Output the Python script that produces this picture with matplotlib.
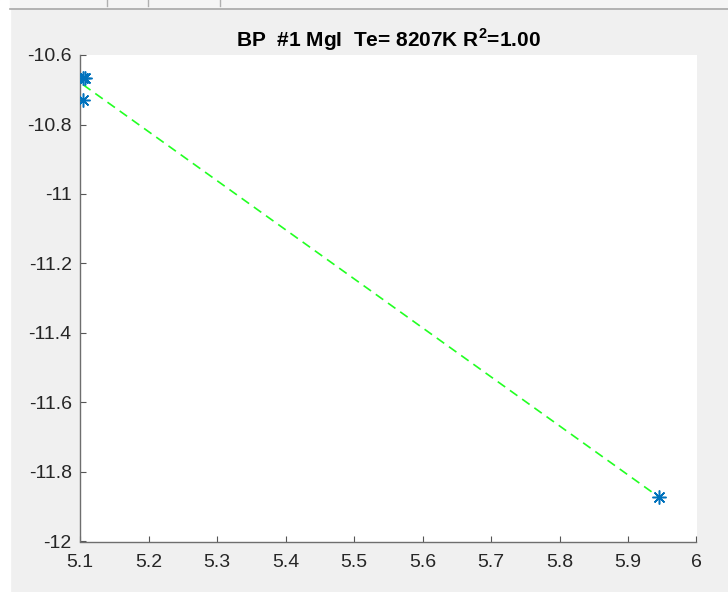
import numpy as np
import matplotlib
matplotlib.use("Agg")
import matplotlib.pyplot as plt
from matplotlib.patches import Rectangle
from matplotlib.lines import Line2D

# valores (Boltzmann plot, MgI)
x_energy = [5.1045, 5.1068, 5.1045, 5.9457]
y_ln = [-10.665, -10.665, -10.730, -11.873]

x_ticks = [5.1, 5.2, 5.3, 5.4, 5.5, 5.6, 5.7, 5.8, 5.9, 6.0]
x_tick_labels = ["5.1", "5.2", "5.3", "5.4", "5.5", "5.6", "5.7", "5.8", "5.9", "6"]
y_ticks = [-12.0, -11.8, -11.6, -11.4, -11.2, -11.0, -10.8, -10.6]
y_tick_labels = ["-12", "-11.8", "-11.6", "-11.4", "-11.2", "-11", "-10.8", "-10.6"]

title_text = r"BP  #1 MgI  Te= 8207K R$^{\mathbf{2}}$=1.00"

plt.rcParams['font.family'] = ['Liberation Sans', 'DejaVu Sans']
plt.rcParams['mathtext.fontset'] = 'custom'
plt.rcParams['mathtext.rm'] = 'Liberation Sans'
plt.rcParams['mathtext.bf'] = 'Liberation Sans:bold'

W, H = 728, 592
fig = plt.figure(figsize=(W / 100, H / 100), dpi=100, facecolor='#f0f0f0')

# franjas de la ventana (borde blanco y barra superior)
fig.add_artist(Rectangle((0, 0), 10 / W, 1, transform=fig.transFigure, color='white', zorder=0))
fig.add_artist(Rectangle((10 / W, 1 - 8 / H), 1, 8 / H, transform=fig.transFigure, color='#f5f5f5', zorder=0))
fig.add_artist(Line2D([10 / W, 1], [1 - 8.5 / H, 1 - 8.5 / H], transform=fig.transFigure, color='#a8a8a8', lw=1.2))
for xp in [107, 148, 220]:
    fig.add_artist(Line2D([xp / W, xp / W], [1 - 6 / H, 1], transform=fig.transFigure, color='#b0b0b0', lw=1))

ax = fig.add_axes([80 / W, 1 - 541.5 / H, 616.5 / W, 486.5 / H])
ax.set_facecolor('white')

# ajuste lineal
coef = np.polyfit(x_energy, y_ln, 1)
x_fit = np.array([min(x_energy), max(x_energy)])
ax.plot(x_fit, np.polyval(coef, x_fit), '--', color='#22ff22', lw=1.2, dashes=(5.5, 3.5), zorder=2)
ax.plot(x_energy, y_ln, linestyle='none', marker=(8, 2, 0), color='#0072bd',
        markersize=10, markeredgewidth=1.1, zorder=3)

ax.set_xlim(5.1, 6.0)
ax.set_ylim(-12.0, -10.6)
ax.set_xticks(x_ticks)
ax.set_xticklabels(x_tick_labels)
ax.set_yticks(y_ticks)
ax.set_yticklabels(y_tick_labels)

for side in ['top', 'right']:
    ax.spines[side].set_visible(False)
for side in ['left', 'bottom']:
    ax.spines[side].set_color('#6e6e6e')
    ax.spines[side].set_linewidth(1.0)

ax.tick_params(direction='in', length=4, width=0.8, color='#555555',
               labelsize=14, labelcolor='#262626')
ax.tick_params(axis='x', pad=9)
ax.tick_params(axis='y', pad=6)

ax.set_title(title_text, fontsize=15, fontweight='bold', color='black', pad=6)

fig.savefig('out.png', dpi=100, facecolor=fig.get_facecolor())
